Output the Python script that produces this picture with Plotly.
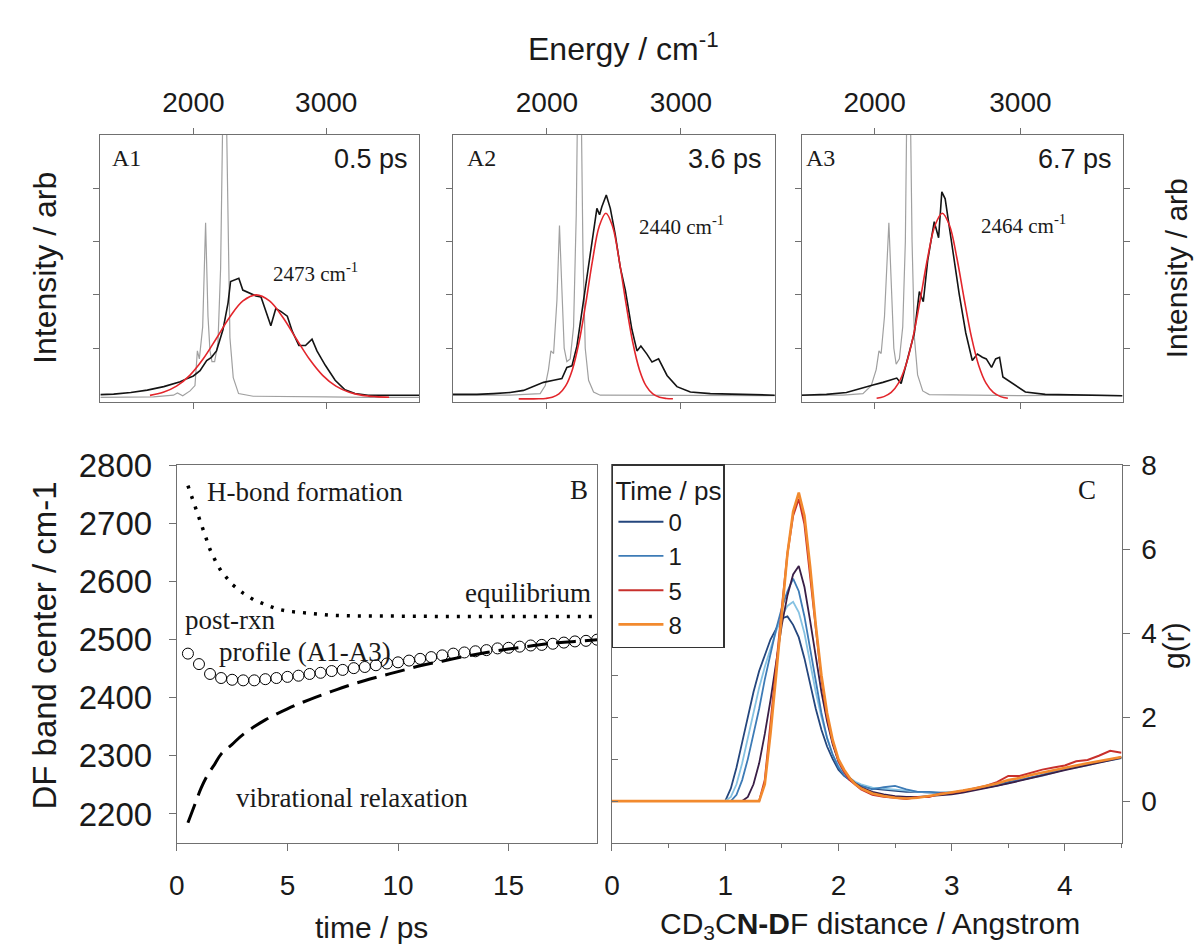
import plotly.graph_objects as go

W, H = 1198, 949
SANS = "Liberation Sans"
SERIF = "Liberation Serif"

# ---------------- Panels A1-A3: DF stretch spectra ----------------
# gray: reference spectrum, black: transient spectrum, red: Gaussian fit
a1_gray_e = [1300, 1500, 1700, 1850, 1880, 1920, 1975, 2012, 2030, 2045, 2070, 2092, 2110, 2125, 2140,
             2160, 2185, 2205, 2222, 2245, 2258, 2275, 2300, 2340, 2450, 2700, 3000, 3300, 3700]
a1_gray_i = [0.08, 0.08, 0.09, 0.12, 0.16, 0.11, 0.2, 0.3, 0.95, 0.8, 1.4, 3.35, 1.6, 0.95, 0.75,
             0.75, 1.1, 2.5, 5.5, 6.0, 3.5, 1.2, 0.45, 0.15, 0.1, 0.09, 0.09, 0.08, 0.08]
a1_black_e = [1300, 1400, 1529, 1653, 1777, 1901, 1950, 2000, 2050, 2100, 2136, 2174, 2223, 2261, 2280,
              2310, 2342, 2372, 2422, 2471, 2509, 2546, 2583, 2620, 2658, 2707, 2744, 2794, 2844, 2893,
              2930, 2993, 3067, 3141, 3216, 3315, 3439, 3588, 3700]
a1_black_i = [0.13, 0.14, 0.17, 0.215, 0.28, 0.37, 0.43, 0.48, 0.58, 0.77, 0.83, 0.95, 1.35, 1.85, 2.25,
              2.28, 2.31, 2.09, 2.04, 1.98, 1.96, 1.67, 1.42, 1.74, 1.69, 1.6, 1.32, 1.05, 1.05, 1.17,
              0.95, 0.68, 0.40, 0.22, 0.15, 0.12, 0.12, 0.12, 0.12]

a2_gray_e = [1291, 1500, 1726, 1876, 1950, 1988, 2012, 2030, 2050, 2075, 2094, 2112, 2129, 2149, 2174,
             2199, 2219, 2231, 2254, 2269, 2286, 2311, 2348, 2398, 2600, 3000, 3400, 3700]
a2_gray_i = [0.12, 0.12, 0.12, 0.14, 0.15, 0.3, 0.6, 0.95, 0.9, 1.9, 3.3, 2.1, 1.0, 0.75, 0.8,
             1.4, 3.5, 6.0, 6.0, 2.8, 1.0, 0.4, 0.18, 0.12, 0.12, 0.11, 0.12, 0.11]
a2_black_e = [1291, 1478, 1602, 1726, 1826, 1900, 1975, 2050, 2112, 2149, 2187, 2224, 2261, 2298, 2336,
              2373, 2393, 2410, 2443, 2473, 2510, 2547, 2585, 2634, 2672, 2701, 2746, 2784, 2833, 2896,
              2970, 3070, 3219, 3468, 3700]
a2_black_i = [0.135, 0.135, 0.15, 0.17, 0.21, 0.28, 0.36, 0.40, 0.43, 0.64, 0.67, 1.04, 1.66, 2.36, 3.0,
              3.62, 3.5, 3.65, 3.87, 3.62, 3.13, 2.52, 2.09, 1.35, 0.95, 1.04, 0.89, 0.74, 0.80, 0.49,
              0.28, 0.18, 0.15, 0.135, 0.12]

a3_gray_e = [1500, 1784, 1920, 1977, 2011, 2030, 2045, 2068, 2098, 2116, 2132, 2148, 2170, 2193, 2211,
             2223, 2243, 2257, 2273, 2295, 2330, 2375, 2580, 3000, 3400, 3700]
a3_gray_i = [0.12, 0.12, 0.15, 0.3, 0.6, 0.95, 0.9, 1.6, 3.35, 2.0, 1.0, 0.7, 0.8, 1.4, 3.0,
             6.0, 6.0, 3.0, 1.2, 0.5, 0.2, 0.13, 0.12, 0.11, 0.12, 0.11]
a3_black_e = [1500, 1670, 1807, 1898, 1989, 2057, 2114, 2152, 2182, 2227, 2273, 2307, 2334, 2364, 2409,
              2439, 2461, 2484, 2511, 2545, 2580, 2625, 2670, 2705, 2739, 2766, 2802, 2830, 2857, 2880,
              2943, 3034, 3170, 3375, 3700]
a3_black_i = [0.12, 0.135, 0.17, 0.245, 0.31, 0.36, 0.40, 0.44, 0.34, 0.80, 1.29, 2.06, 1.87, 2.64, 3.37,
              3.07, 3.93, 3.80, 3.31, 2.64, 2.02, 1.29, 0.77, 0.89, 0.83, 0.80, 0.64, 0.80, 0.83, 0.46,
              0.34, 0.18, 0.135, 0.12, 0.11]

# fitted band centres (cm-1) and fit profiles, sampled as offsets from the centre
fit_centers = [2473, 2440, 2464]
fit_times = ["0.5 ps", "3.6 ps", "6.7 ps"]
panel_tags = ["A1", "A2", "A3"]
a1_fit_off = [-800, -700, -600, -500, -400, -300, -200, -100, 0, 100, 200, 300, 400, 500, 600, 700, 800, 900, 1000]
a1_fit_i = [0.117, 0.174, 0.289, 0.492, 0.797, 1.183, 1.581, 1.885, 2.0, 1.885, 1.581, 1.183, 0.797, 0.492,
            0.289, 0.174, 0.117, 0.093, 0.082]
a2_fit_off = [-650, -600, -550, -500, -450, -400, -350, -300, -250, -200, -150, -100, -50, 0, 50, 100,
              150, 200, 250, 300, 350, 400, 450, 500]
a2_fit_i = [0.05, 0.05, 0.05, 0.052, 0.059, 0.081, 0.143, 0.293, 0.598, 1.116, 1.838, 2.638, 3.282, 3.53,
            3.282, 2.638, 1.838, 1.116, 0.598, 0.293, 0.143, 0.081, 0.059, 0.052]
a3_fit_off = [-450, -400, -350, -300, -250, -200, -150, -100, -50, 0, 50, 100, 150, 200, 250, 300, 350, 400, 450]
a3_fit_i = [0.063, 0.093, 0.171, 0.345, 0.677, 1.212, 1.927, 2.695, 3.299, 3.53, 3.299, 2.695, 1.927,
            1.212, 0.677, 0.345, 0.171, 0.093, 0.063]

energy_ranges = [[1300, 3700], [1300, 3700], [1500, 3700]]
energy_ticks = [2000, 3000]

# ---------------- Panel B: DF band centre vs time ----------------
t_profile = [0.5, 1.0, 1.5, 2.0, 2.5, 3.0, 3.5, 4.0, 4.5, 5.0, 5.5, 6.0, 6.5, 7.0, 7.5, 8.0, 8.5, 9.0, 9.5,
             10.0, 10.5, 11.0, 11.5, 12.0, 12.5, 13.0, 13.5, 14.0, 14.5, 15.0, 15.5, 16.0, 16.5, 17.0,
             17.5, 18.0, 18.5, 19.0]
nu_profile = [2476, 2458, 2441, 2434, 2431, 2430, 2430, 2432, 2434, 2436, 2438, 2441, 2443, 2446, 2448,
              2451, 2453, 2456, 2459, 2461, 2464, 2467, 2470, 2473, 2476, 2478, 2480, 2482, 2485, 2486,
              2488, 2490, 2491, 2493, 2495, 2497, 2498, 2500]
t_hbond = [0.5, 0.75, 1.0, 1.25, 1.5, 1.75, 2.0, 2.5, 3.0, 3.5, 4.0, 4.5, 5.0, 6.0, 7.0, 8.0, 10.0, 12.0,
           14.0, 16.0, 19.0]
nu_hbond = [2765, 2738, 2710, 2680, 2655, 2635, 2618, 2595, 2580, 2568, 2560, 2553, 2549, 2545, 2542,
            2541, 2540, 2540, 2540, 2540, 2540]
t_vib = [0.5, 0.8, 1.1, 1.4, 1.7, 2.0, 2.5, 3.0, 4.0, 5.0, 6.0, 7.0, 8.0, 9.0, 10.0, 11.0, 12.0, 13.0,
         14.0, 15.0, 16.0, 17.0, 18.0, 19.0]
nu_vib = [2185, 2215, 2245, 2268, 2285, 2303, 2320, 2337, 2362, 2381, 2397, 2411, 2424, 2435, 2445, 2455,
          2463, 2471, 2478, 2484, 2489, 2494, 2497, 2500]

# ---------------- Panel C: N...D radial distribution functions ----------------
r_grid = [0, 0.95, 1.00, 1.05, 1.10, 1.15, 1.20, 1.25, 1.30, 1.35, 1.40, 1.45, 1.50, 1.55, 1.60, 1.65,
          1.70, 1.75, 1.80, 1.85, 1.90, 1.95, 2.00, 2.05, 2.10, 2.15, 2.20, 2.3, 2.4, 2.5, 2.6, 2.7, 2.8,
          2.9, 3.0, 3.1, 3.2, 3.3, 3.4, 3.5, 3.6, 3.7, 3.8, 3.9, 4.0, 4.1, 4.2, 4.3, 4.4, 4.5]
g_t0 = [0, 0, 0, 0.3, 0.8, 1.4, 2.0, 2.6, 3.1, 3.5, 3.85, 4.1, 4.35, 4.4, 4.2, 3.9, 3.4, 2.8, 2.2, 1.7,
        1.3, 1.0, 0.75, 0.6, 0.5, 0.43, 0.38, 0.3, 0.27, 0.25, 0.22, 0.22, 0.2, 0.19, 0.2, 0.24, 0.28,
        0.33, 0.38, 0.45, 0.5, 0.56, 0.62, 0.7, 0.78, 0.82, 0.88, 0.93, 1.0, 1.05]
g_t05 = [0, 0, 0, 0.1, 0.4, 0.9, 1.5, 2.1, 2.7, 3.2, 3.65, 4.05, 4.4, 4.65, 4.75, 4.5, 4.0, 3.3, 2.6, 2.0,
         1.5, 1.1, 0.85, 0.68, 0.55, 0.46, 0.4, 0.32, 0.3, 0.28, 0.25, 0.22, 0.2, 0.2, 0.21, 0.24, 0.3,
         0.34, 0.38, 0.42, 0.5, 0.55, 0.6, 0.68, 0.75, 0.8, 0.85, 0.92, 0.97, 1.02]
g_t1 = [0, 0, 0, 0, 0.15, 0.5, 1.0, 1.6, 2.2, 2.9, 3.5, 4.1, 4.6, 5.0, 5.3, 5.0, 4.4, 3.6, 2.8, 2.1,
        1.5, 1.1, 0.8, 0.62, 0.5, 0.42, 0.36, 0.28, 0.33, 0.36, 0.28, 0.22, 0.22, 0.2, 0.2, 0.23, 0.27,
        0.32, 0.37, 0.44, 0.5, 0.56, 0.62, 0.69, 0.76, 0.82, 0.87, 0.93, 0.98, 1.04]
g_t3 = [0, 0, 0, 0, 0, 0, 0.1, 0.4, 0.9, 1.6, 2.4, 3.3, 4.2, 4.9, 5.4, 5.6, 5.1, 4.3, 3.4, 2.6,
        1.9, 1.35, 0.95, 0.72, 0.55, 0.42, 0.33, 0.22, 0.16, 0.12, 0.1, 0.1, 0.12, 0.14, 0.16, 0.2, 0.25,
        0.3, 0.36, 0.42, 0.48, 0.55, 0.6, 0.67, 0.74, 0.8, 0.86, 0.92, 0.98, 1.03]
g_t5 = [0, 0, 0, 0, 0, 0, 0, 0, 0, 0.5, 1.8, 3.2, 4.6, 5.9, 6.8, 7.2, 6.6, 5.4, 4.1, 2.9,
        2.0, 1.4, 0.95, 0.7, 0.5, 0.38, 0.28, 0.15, 0.1, 0.08, 0.05, 0.1, 0.1, 0.18, 0.2, 0.24, 0.3,
        0.36, 0.45, 0.6, 0.6, 0.68, 0.75, 0.8, 0.85, 0.95, 0.98, 1.08, 1.2, 1.15]
g_t8 = [0, 0, 0, 0, 0, 0, 0, 0, 0, 0.4, 1.6, 3.0, 4.5, 5.9, 6.9, 7.35, 6.8, 5.6, 4.2, 3.0,
        2.1, 1.45, 1.0, 0.75, 0.55, 0.4, 0.3, 0.18, 0.12, 0.08, 0.06, 0.08, 0.12, 0.16, 0.2, 0.25, 0.3,
        0.36, 0.42, 0.5, 0.55, 0.62, 0.68, 0.74, 0.8, 0.85, 0.9, 0.95, 1.0, 1.05]

rdf_series = [
    ("0", g_t0, "#24467d", 1.8, True),
    ("0.5", g_t05, "#86c2e2", 1.8, False),
    ("1", g_t1, "#3d7bb6", 1.8, True),
    ("3", g_t3, "#3a1f47", 1.8, False),
    ("5", g_t5, "#c8302c", 2.0, True),
    ("8", g_t8, "#f28a2e", 2.6, True),
]

# ---------------- figure ----------------
def fx(p):
    return p / W


def fy(p):
    return 1 - p / H


BOX = "#707070"
INK = "#1a1a1a"

fig = go.Figure()

spectra = [
    (a1_gray_e, a1_gray_i, a1_black_e, a1_black_i, a1_fit_off, a1_fit_i),
    (a2_gray_e, a2_gray_i, a2_black_e, a2_black_i, a2_fit_off, a2_fit_i),
    (a3_gray_e, a3_gray_i, a3_black_e, a3_black_i, a3_fit_off, a3_fit_i),
]
for k, (ge, gi, be, bi, fo, fi) in enumerate(spectra):
    xa = "x" if k == 0 else f"x{k + 1}"
    ya = "y" if k == 0 else f"y{k + 1}"
    fig.add_trace(go.Scatter(x=ge, y=gi, mode="lines", line=dict(color="#a0a0a0", width=1.2),
                             xaxis=xa, yaxis=ya, showlegend=False, hoverinfo="skip"))
    fig.add_trace(go.Scatter(x=be, y=bi, mode="lines", line=dict(color="#141414", width=1.6),
                             xaxis=xa, yaxis=ya, showlegend=False, hoverinfo="skip"))
    fig.add_trace(go.Scatter(x=[fit_centers[k] + o for o in fo], y=fi, mode="lines",
                             line=dict(color="#e3262c", width=1.6, shape="spline"),
                             xaxis=xa, yaxis=ya, showlegend=False, hoverinfo="skip"))

# panel B
fig.add_trace(go.Scatter(x=t_hbond, y=nu_hbond, mode="lines",
                         line=dict(color="black", width=3.5, dash="3px,8px"),
                         xaxis="x4", yaxis="y4", showlegend=False))
fig.add_trace(go.Scatter(x=t_vib, y=nu_vib, mode="lines",
                         line=dict(color="black", width=3, dash="20px,9px", shape="spline"),
                         xaxis="x4", yaxis="y4", showlegend=False))
fig.add_trace(go.Scatter(x=t_profile, y=nu_profile, mode="markers",
                         marker=dict(symbol="circle-open", size=11, color="black", line=dict(width=1)),
                         xaxis="x4", yaxis="y4", showlegend=False))

# panel C
for name, g, col, lw, show in rdf_series:
    fig.add_trace(go.Scatter(x=r_grid, y=g, mode="lines", name=name, showlegend=show,
                             line=dict(color=col, width=lw), xaxis="x5", yaxis="y5"))
fig.add_trace(go.Scatter(x=[], y=[], xaxis="x5", yaxis="y6", showlegend=False))

# axes
top_y = [391, 119]
top_x = [[93, 414], [448, 772], [799, 1122]]
for k in range(3):
    xkey = "xaxis" if k == 0 else f"xaxis{k + 1}"
    ykey = "yaxis" if k == 0 else f"yaxis{k + 1}"
    ya = "y" if k == 0 else f"y{k + 1}"
    xa = "x" if k == 0 else f"x{k + 1}"
    fig.update_layout(**{
        xkey: dict(domain=[fx(top_x[k][0]), fx(top_x[k][1])], range=energy_ranges[k],
                   tickvals=energy_ticks, side="top", anchor=ya, ticks="outside", ticklen=6,
                   tickcolor=BOX, showline=True, linecolor=BOX, linewidth=1.3, mirror="ticks",
                   showgrid=False, zeroline=False, ticklabelstandoff=4,
                   tickfont=dict(family=SANS, size=28, color=INK)),
        ykey: dict(domain=[fy(top_y[0]), fy(top_y[1])], range=[0, 5], tickvals=[1, 2, 3, 4],
                   anchor=xa, ticks="outside", ticklen=6, tickcolor=BOX, showticklabels=False,
                   showline=True, linecolor=BOX, linewidth=1.3,
                   mirror="ticks" if k == 2 else True, showgrid=False, zeroline=False),
    })

fig.update_layout(
    xaxis4=dict(domain=[fx(170), fx(593)], range=[0, 19], tickvals=[0, 5, 10, 15], anchor="y4",
                ticks="outside", ticklen=7, tickcolor=BOX, showline=True, linecolor=BOX, linewidth=1.3,
                mirror=True, showgrid=False, zeroline=False, ticklabelstandoff=10,
                tickfont=dict(family=SANS, size=28, color=INK)),
    yaxis4=dict(domain=[fy(841), fy(456)], range=[2150, 2800],
                tickvals=[2200, 2300, 2400, 2500, 2600, 2700, 2800], anchor="x4",
                ticks="outside", ticklen=7, tickcolor=BOX, showline=True, linecolor=BOX, linewidth=1.3,
                mirror=True, showgrid=False, zeroline=False, ticklabelstandoff=10,
                tickfont=dict(family=SANS, size=33, color=INK)),
    xaxis5=dict(domain=[fx(608), fx(1121)], range=[0, 4.5], tickmode="linear", tick0=0, dtick=1,
                anchor="y5", ticks="outside", ticklen=7, tickcolor=BOX,
                minor=dict(dtick=0.5, ticks="outside", ticklen=4, tickcolor=BOX),
                showline=True, linecolor=BOX, linewidth=1.3, mirror=True, showgrid=False,
                zeroline=False, ticklabelstandoff=10, tickfont=dict(family=SANS, size=28, color=INK)),
    yaxis5=dict(domain=[fy(841), fy(456)], range=[-1, 8], tickvals=[0, 2, 4, 6, 8], anchor="x5",
                side="right", ticks="outside", ticklen=7, tickcolor=BOX, showline=True, linecolor=BOX,
                linewidth=1.3, mirror=True, showgrid=False, zeroline=False, ticklabelstandoff=6,
                tickfont=dict(family=SANS, size=28, color=INK)),
    yaxis6=dict(overlaying="y5", anchor="x5", side="left", range=[-1, 8],
                tickvals=[0, 1, 2, 3, 4, 5, 6, 7], ticks="inside", ticklen=6, tickcolor=BOX,
                showticklabels=False, showline=False, showgrid=False, zeroline=False),
)

ann = []


def text(x, y, s, size, family=SANS, xanchor="center", angle=0, color=INK):
    ann.append(dict(x=fx(x), y=fy(y), xref="paper", yref="paper", text=s, showarrow=False,
                    xanchor=xanchor, yanchor="middle", textangle=angle,
                    font=dict(family=family, size=size, color=color)))


# titles
text(620, 30, "Energy / cm<sup>-1</sup>", 32)
text(37, 255, "Intensity / arb", 32, angle=-90)
text(1176, 255, "Intensity / arb", 30, angle=-90)
text(37, 640, "DF band center / cm-1", 33, angle=-90)
text(366, 927, "time / ps", 30)
text(868, 925, "CD<sub>3</sub>C<b>N-D</b>F distance / Angstrom", 30)
text(1174, 640, "g(r)", 30, angle=-90)

# panel A labels
tag_x = [103, 460, 801]
time_right = [405, 761, 1113]
peak_lbl_x = [265, 633, 978]
peak_lbl_y = [259, 212, 210]
for k in range(3):
    text(tag_x[k], 143, panel_tags[k], 24, family=SERIF, xanchor="left")
    text(time_right[k], 144, fit_times[k], 27, xanchor="right")
    text(peak_lbl_x[k], peak_lbl_y[k], f"{fit_centers[k]} cm<sup>-1</sup>", 21, family=SERIF,
         xanchor="left")

# panel B labels
text(198, 483, "H-bond formation", 27, family=SERIF, xanchor="left")
text(589, 586, "equilibrium", 27, family=SERIF, xanchor="right")
text(176, 614, "post-rxn", 27, family=SERIF, xanchor="left")
text(210, 646, "profile (A1-A3)", 27, family=SERIF, xanchor="left")
text(228, 795, "vibrational relaxation", 27, family=SERIF, xanchor="left")
text(575, 481, "B", 27, family=SERIF)
text(1086, 481, "C", 27, family=SERIF)

fig.update_layout(
    width=W, height=H,
    margin=dict(l=0, r=0, t=0, b=0),
    paper_bgcolor="white", plot_bgcolor="white",
    annotations=ann,
    legend=dict(x=fx(608), y=fy(455), xanchor="left", yanchor="top", bgcolor="white",
                bordercolor="#333333", borderwidth=1.5, itemwidth=45, tracegroupgap=0,
                title=dict(text="Time / ps", font=dict(family=SANS, size=26, color=INK)),
                font=dict(family=SANS, size=24, color=INK)),
)

fig.write_html("out.html")
